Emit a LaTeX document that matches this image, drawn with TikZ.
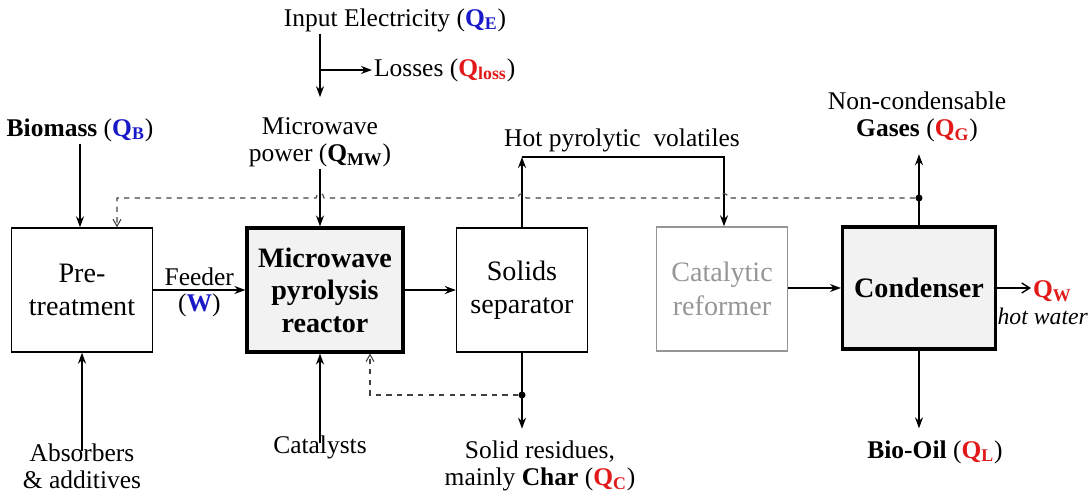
\documentclass[tikz,border=0pt]{standalone}
\usepackage{fontspec}
\setmainfont{Liberation Serif}
\usetikzlibrary{arrows.meta,positioning,calc}
\definecolor{qblue}{RGB}{25,25,200}
\definecolor{qred}{RGB}{225,25,25}
\definecolor{boxfill}{RGB}{242,242,242}
\definecolor{faintgrey}{RGB}{150,150,150}
\newcommand{\qflow}[2]{\textcolor{#1}{\textbf{Q\textsubscript{#2}}}}
\tikzset{
  unit/.style={draw,line width=0.8pt,minimum height=2.48cm,align=center,font=\fontsize{16}{19}\selectfont},
  mainunit/.style={unit,line width=1.8pt,fill=boxfill,font=\fontsize{16}{18.5}\selectfont\bfseries},
  faintunit/.style={unit,draw=faintgrey,text=faintgrey},
  lbl/.style={align=center,font=\fontsize{14.5}{15.5}\selectfont,inner sep=1pt},
  arr/.style={-{Stealth[length=2.2mm,width=1.6mm]},line width=0.8pt},
  darr/.style={-{Straight Barb[length=1.4mm,width=1.6mm]},dashed,line width=0.6pt,draw=black!75},
  oarr/.style={-{Straight Barb[length=1.6mm,width=2mm]},line width=0.8pt},
  dot/.style={circle,fill,inner sep=0pt,minimum size=4pt},
}
\begin{document}
\begin{tikzpicture}[x=0.02cm,y=-0.02cm]
\useasboundingbox (0,0) rectangle (1092,496);
% process units
\node[unit,minimum width=2.82cm] (pre) at (82,290) {Pre-\\treatment};
\node[mainunit,minimum width=3.12cm] (reactor) at (325,290) {Microwave\\pyrolysis\\reactor};
\node[unit,minimum width=2.62cm] (sep) at (522,290) {Solids\\separator};
\node[faintunit,minimum width=2.62cm] (reformer) at (722,289) {Catalytic\\reformer};
\node[mainunit,minimum width=3.06cm,minimum height=2.44cm] (cond) at (919,288) {Condenser};
% streams in and out
\node[lbl] (elec) at (395,20) {Input Electricity (\qflow{qblue}{E})};
\node[lbl,anchor=west] (losses) at (372,70) {Losses (\qflow{qred}{loss})};
\node[lbl] (mwpower) at (320,142) {Microwave\\power (\qflow{black}{MW})};
\node[lbl] (biomass) at (80,130) {\textbf{Biomass} (\qflow{qblue}{B})};
\node[lbl] (volatiles) at (622,140) {Hot pyrolytic\ \ volatiles};
\node[lbl] (noncond) at (917,117) {Non-condensable\\\textbf{Gases} (\qflow{qred}{G})};
\node[lbl,anchor=west] (qw) at (1031,291) {\qflow{qred}{W}};
\node[lbl,font=\fontsize{13.5}{15}\selectfont\itshape,anchor=east] (hotwater) at (1090,316) {hot water};
\node[lbl] (biooil) at (935,452) {\textbf{Bio-Oil} (\qflow{qred}{L})};
\node[lbl] (residues) at (540,466) {Solid residues,\\mainly\ \textbf{Char} (\qflow{qred}{C})};
\node[lbl] (catalysts) at (320,447) {Catalysts};
\node[lbl] (absorbers) at (82,466) {Absorbers\\\& additives};
\coordinate (split) at (320,70);
\coordinate (volL) at (522,157);
\coordinate (volR) at (724,157);
\coordinate (recL) at (117,198);
\coordinate (charL) at (370,395);
\node[dot] (gasdot) at (919,198) {};
\node[dot] (chardot) at (522,395) {};
% connectors
\draw[arr] (elec.south -| mwpower) -- ([yshift=3.6mm]mwpower.north);
\draw[arr] (split) -- (losses.west);
\draw[arr] (mwpower.south) -- (mwpower.south |- reactor.north);
\draw[arr] (biomass.south) -- (biomass.south |- pre.north);
\draw[arr] ([yshift=-2mm]absorbers.north) -- (absorbers.north |- pre.south);
\draw[arr] ([yshift=-2mm]catalysts.north) -- (catalysts.north |- reactor.south);
\draw[arr] (pre) -- node[lbl,above=1pt]{Feeder} node[lbl,below=1pt]{(\textcolor{qblue}{\textbf{W}})} (reactor);
\draw[arr] (reactor) -- (sep);
\draw[arr] (sep.north) -- (volL);
\draw[arr] (volL) -- (volR) -- (volR |- reformer.north);
\draw[arr] (reformer.east |- cond) -- (cond.west);
\draw[arr] (cond.north) -- ([yshift=-2mm]cond.north |- noncond.south);
\draw[oarr] (cond.east) -- (cond.east -| qw.west);
\draw[arr] (cond.south) -- ([yshift=2mm]cond.south |- biooil.north);
\draw[arr] (sep.south) -- ([yshift=2mm]sep.south |- residues.north);
% recycle lines
\draw[darr] (gasdot) -- (728,198) .. controls (728,192) and (720,192) .. (720,198)
  -- (526,198) .. controls (526,192) and (518,192) .. (518,198)
  -- (324,198) .. controls (324,192) and (316,192) .. (316,198)
  -- (recL) -- (recL |- pre.north);
\draw[darr] (chardot) -- (charL) -- (charL |- reactor.south);
\end{tikzpicture}
\end{document}
